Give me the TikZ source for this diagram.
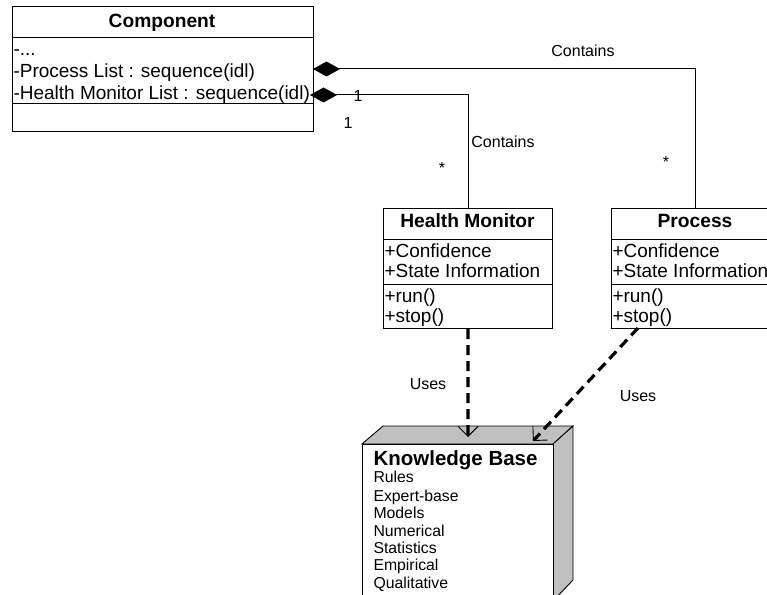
\documentclass[tikz,border=0pt]{standalone}
\usepackage{fontspec}
\setmainfont{Liberation Sans}
\usetikzlibrary{arrows.meta}
\begin{document}
\begin{tikzpicture}[x=1bp,y=-1bp,line width=1bp,
  box/.style={draw,rectangle,inner sep=0,anchor=north west,fill=white},
  txt/.style={inner sep=0,anchor=base west,font=\fontsize{19bp}{22bp}\selectfont},
  ttl/.style={inner sep=0,anchor=base,font=\fontsize{19.2bp}{22bp}\selectfont\bfseries},
  lbl/.style={inner sep=0,anchor=base,font=\fontsize{16bp}{19bp}\selectfont},
  kbttl/.style={inner sep=0,anchor=base west,font=\fontsize{20.5bp}{24bp}\selectfont\bfseries},
  kbi/.style={inner sep=0,anchor=base west,font=\fontsize{15.8bp}{18bp}\selectfont},
  compos/.style={{Diamond[length=27bp,width=15bp]}-},
  uses/.style={line width=3.2bp,dash pattern=on 10bp off 6bp,
    -{Straight Barb[length=10bp,width=20bp,line width=0.9bp]}},
  kbshade/.style={draw,fill=kbgray,line width=0.9bp}
]
\definecolor{kbgray}{RGB}{192,192,192}
\useasboundingbox (0,0) rectangle (767,595);
\clip (0,0) rectangle (767,595);
\fill[white] (0,0) rectangle (767,595);

% Component class
\node[box,minimum width=301bp,minimum height=125bp] (comp) at (12,6) {};
\draw (12,38) -- (313,38);
\draw (12,104) -- (313,104);
\node[ttl] (compT) at (162,28) {Component};
\node[txt] (compA1) at (13,56) {-...};
\node[txt] (compA2) at (13,78) {-Process List : sequence(idl)};
\node[txt] (compA3) at (13,100) {-Health Monitor List : sequence(idl)};

% Health Monitor class
\node[box,minimum width=169bp,minimum height=120bp] (hm) at (383,208) {};
\draw (383,239) -- (552,239);
\draw (383,284) -- (552,284);
\node[ttl] (hmT) at (467.5,228) {Health Monitor};
\node[txt] (hmA1) at (384,257) {+Confidence};
\node[txt] (hmA2) at (384,277) {+State Information};
\node[txt] (hmO1) at (384,302) {+run()};
\node[txt] (hmO2) at (384,322) {+stop()};

% Process class
\node[box,minimum width=168bp,minimum height=120bp] (proc) at (611,208) {};
\draw (611,239) -- (779,239);
\draw (611,284) -- (779,284);
\node[ttl] (procT) at (695,228) {Process};
\node[txt] (procA1) at (612,257) {+Confidence};
\node[txt] (procA2) at (612,277) {+State Information};
\node[txt] (procO1) at (612,302) {+run()};
\node[txt] (procO2) at (612,322) {+stop()};

% Knowledge Base (3D box)
\draw[kbshade] (362,444) -- (383,426) -- (573,426) -- (553,444) -- cycle;
\draw[kbshade] (553,444) -- (573,426) -- (573,580) -- (553,601) -- cycle;
\node[box,minimum width=191bp,minimum height=170bp,line width=0.9bp] (kb) at (362,444) {};
\node[kbttl] (kbT) at (373,465) {Knowledge Base};
\node[kbi] (kb1) at (373,482) {Rules};
\node[kbi] (kb2) at (373,501) {Expert-base};
\node[kbi] (kb3) at (373,518) {Models};
\node[kbi] (kb4) at (373,536) {Numerical};
\node[kbi] (kb5) at (373,553) {Statistics};
\node[kbi] (kb6) at (373,570) {Empirical};
\node[kbi] (kb7) at (373,588) {Qualitative};

% composition connectors
\coordinate (cp1) at (313,69);
\coordinate (cp2) at (310,95);
\draw[compos] (cp1) -| (proc.north);
\draw[compos] (cp2) -| (hm.north);
\node[lbl] (lc1) at (583,57) {Contains};
\node[lbl] (lc2) at (503,148) {Contains};
\node[lbl] (m1) at (358,102) {1};
\node[lbl] (m2) at (348,129) {1};
\node[lbl] (m3) at (442,174) {*};
\node[lbl] (m4) at (666,168) {*};

% uses dependencies
\coordinate (ps) at (638,328);
\coordinate (kbhit1) at (468,437);
\coordinate (kbhit2) at (533,441);
\draw[uses] (hm.south) -- (kbhit1);
\draw[uses] (ps) -- (kbhit2);
\node[lbl] (u1) at (428,389) {Uses};
\node[lbl] (u2) at (638,401) {Uses};
\end{tikzpicture}
\end{document}
